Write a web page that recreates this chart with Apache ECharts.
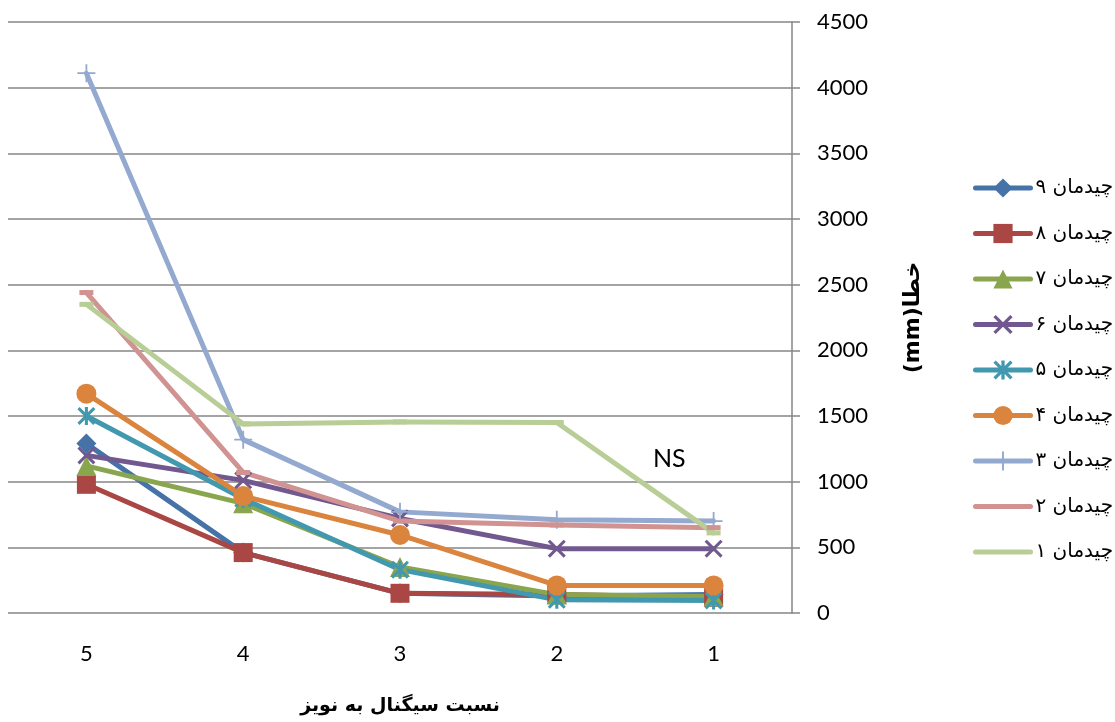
<!DOCTYPE html>
<html>
<head>
<meta charset="utf-8">
<script src="https://cdn.jsdelivr.net/npm/echarts@6/dist/echarts.min.js"></script>
<style>
html,body{margin:0;padding:0;background:#fff;}
#chart{width:1115px;height:722px;}
</style>
</head>
<body>
<div id="chart"></div>
<script>
// ---- data ----
const categories = ['5', '4', '3', '2', '1'];
const seriesNames = ['چیدمان ۹', 'چیدمان ۸', 'چیدمان ۷', 'چیدمان ۶', 'چیدمان ۵', 'چیدمان ۴', 'چیدمان ۳', 'چیدمان ۲', 'چیدمان ۱'];
const s9 = [1290, 460, 150, 130, 140];
const s8 = [980, 460, 150, 140, 120];
const s7 = [1120, 835, 350, 140, 125];
const s6 = [1200, 1010, 720, 490, 490];
const s5 = [1500, 870, 330, 100, 95];
const s4 = [1670, 890, 594, 210, 210];
const s3 = [4110, 1320, 770, 710, 700];
const s2 = [2440, 1070, 700, 670, 650];
const s1 = [2350, 1440, 1455, 1450, 610];
const yTicks = [0, 500, 1000, 1500, 2000, 2500, 3000, 3500, 4000, 4500];
const xTitle = 'نسبت سیگنال به نویز';
const yTitle = 'خطا(mm)';
const note = 'NS';

// ---- styles ----
const colors = ['#4572A7', '#AA4643', '#89A54E', '#71588F', '#4198AF', '#DB843D', '#93A9CF', '#D19392', '#B9CD96'];
const X_PATH = 'path://M0,12 L12,0 L50,38 L88,0 L100,12 L62,50 L100,88 L88,100 L50,62 L12,100 L0,88 L38,50 Z';
const STAR_PATH = 'path://M0,12 L12,0 L50,38 L88,0 L100,12 L62,50 L100,88 L88,100 L50,62 L12,100 L0,88 L38,50 Z M41.5,0 L58.5,0 L58.5,100 L41.5,100 Z';
const PLUS_PATH = 'path://M0,45 L100,45 L100,55 L0,55 Z M45,0 L55,0 L55,100 L45,100 Z';
const symbols = ['diamond', 'rect', 'triangle', X_PATH, STAR_PATH, 'circle', PLUS_PATH, 'rect', 'rect'];
const sizes = [20, 19, 20, 18, 18, 20, 18, [14, 5], [14, 5]];
const dataSets = [s9, s8, s7, s6, s5, s4, s3, s2, s1];

const series = dataSets.map((d, i) => ({
  name: seriesNames[i],
  type: 'line',
  data: d,
  symbol: symbols[i],
  symbolSize: sizes[i],
  showAllSymbol: true,
  lineStyle: { color: colors[i], width: 5, cap: 'round', join: 'round' },
  itemStyle: { color: colors[i], borderWidth: 0 },
  emphasis: { disabled: true },
  z: 2
}));

const legendData = seriesNames.map((n, i) => {
  const item = { name: n };
  if (i >= 7) item.itemStyle = { opacity: 0 };
  return item;
});

const chart = echarts.init(document.getElementById('chart'), null, { renderer: 'canvas' });
chart.setOption({
  backgroundColor: '#ffffff',
  animation: false,
  color: colors,
  grid: { left: 8, right: 323, top: 22, bottom: 109, containLabel: false, outerBoundsMode: 'none' },
  legend: {
    orient: 'vertical',
    left: 968,
    top: 171,
    itemWidth: 55,
    itemHeight: 24,
    itemGap: 21.5,
    data: legendData,
    selectedMode: false,
    lineStyle: { width: 5, cap: 'round' },
    textStyle: { fontFamily: 'DejaVu Sans', fontSize: 20, color: '#000', lineHeight: 24 }
  },
  xAxis: {
    type: 'category',
    data: categories,
    boundaryGap: true,
    axisLine: { show: false },
    axisTick: { show: false },
    splitLine: { show: false },
    axisLabel: { fontFamily: 'Lato', fontSize: 22, color: '#000', margin: 30 },
    name: xTitle,
    nameLocation: 'middle',
    nameGap: 84,
    nameTextStyle: { fontFamily: 'DejaVu Sans', fontWeight: 'bold', fontSize: 19, color: '#000' }
  },
  yAxis: {
    type: 'value',
    position: 'right',
    min: yTicks[0],
    max: yTicks[yTicks.length - 1],
    interval: yTicks[1] - yTicks[0],
    axisLine: { show: true, lineStyle: { color: '#868686', width: 1.5 } },
    axisTick: { show: true, inside: false, length: 8, lineStyle: { color: '#868686', width: 1.5 } },
    splitLine: { show: true, lineStyle: { color: '#868686', width: 1.5 } },
    axisLabel: { fontFamily: 'Lato', fontSize: 22, color: '#000', margin: 25, formatter: v => String(v) },
    name: '\u202B' + yTitle + '\u202C',
    nameLocation: 'middle',
    nameRotate: 90,
    nameGap: 110,
    nameTextStyle: { fontFamily: 'DejaVu Sans', fontWeight: 'bold', fontSize: 22, color: '#000' }
  },
  graphic: [{
    type: 'text',
    x: 653,
    y: 459,
    style: { text: note, font: '25px Lato', fill: '#000', verticalAlign: 'middle', align: 'left' }
  }],
  series: series
});
</script>
</body>
</html>
